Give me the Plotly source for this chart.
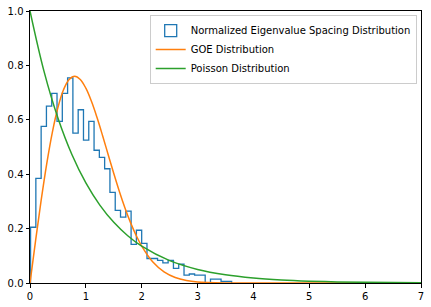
import numpy as np
import plotly.graph_objects as go

# Histogram (density) of normalized eigenvalue spacings
hist_start = 0.01
hist_end = 3.61
hist_heights = [0.205, 0.385, 0.576, 0.650, 0.697, 0.594, 0.697, 0.754, 0.551, 0.637,
                0.525, 0.594, 0.488, 0.462, 0.420, 0.333, 0.267, 0.242, 0.264, 0.142,
                0.194, 0.146, 0.090, 0.090, 0.083, 0.074, 0.083, 0.054, 0.069, 0.029,
                0.033, 0.029, 0.029, 0.0, 0.014, 0.014, 0.006, 0.006]
hist_edges = np.linspace(hist_start, hist_end, len(hist_heights) + 1)

# GOE curve values
goe_s = [0, 0.1, 0.2, 0.3, 0.4, 0.5, 0.6, 0.7, 0.8, 0.9, 1.0, 1.1, 1.2, 1.3, 1.4, 1.5,
         1.6, 1.7, 1.8, 1.9, 2.0, 2.2, 2.4, 2.6, 2.8, 3.0, 3.5, 4.0, 5.0, 6.0, 7.0]
goe_p = [0, 0.1559, 0.3044, 0.4391, 0.5541, 0.6454, 0.7104, 0.7483, 0.7602, 0.7483,
         0.7162, 0.6680, 0.6083, 0.5415, 0.4717, 0.4025, 0.3366, 0.2760, 0.2219, 0.1752,
         0.1358, 0.0772, 0.0409, 0.0202, 0.0093, 0.0040, 0.0004, 0.0, 0.0, 0.0, 0.0]

# Poisson curve values
poi_s = [0, 0.25, 0.5, 0.75, 1.0, 1.25, 1.5, 1.75, 2.0, 2.5, 3.0, 3.5, 4.0, 4.5, 5.0,
         5.5, 6.0, 6.5, 7.0]
poi_p = [1.0, 0.7788, 0.6065, 0.4724, 0.3679, 0.2865, 0.2231, 0.1738, 0.1353, 0.0821,
         0.0498, 0.0302, 0.0183, 0.0111, 0.0067, 0.0041, 0.0025, 0.0015, 0.0009]

x_ticks = [0, 1, 2, 3, 4, 5, 6, 7]
y_ticks = [0.0, 0.2, 0.4, 0.6, 0.8, 1.0]

blue, orange, green = "#1f77b4", "#ff7f0e", "#2ca02c"

step_x = [hist_edges[0]] + list(hist_edges)
step_y = [0] + list(hist_heights) + [0]

fig = go.Figure()
fig.add_trace(go.Scatter(x=step_x, y=step_y, mode="lines", line=dict(color=blue, width=1.3, shape="hv"),
                         showlegend=False, hoverinfo="skip"))
fig.add_trace(go.Bar(x=[None], y=[None], name="Normalized Eigenvalue Spacing Distribution",
                     marker=dict(color="rgba(0,0,0,0)", line=dict(color=blue, width=1.3))))
fig.add_trace(go.Scatter(x=goe_s, y=goe_p, mode="lines", name="GOE Distribution",
                         line=dict(color=orange, width=1.5, shape="spline")))
fig.add_trace(go.Scatter(x=poi_s, y=poi_p, mode="lines", name="Poisson Distribution",
                         line=dict(color=green, width=1.5, shape="spline")))

axis_common = dict(showline=True, mirror=True, linecolor="black", linewidth=1, ticks="outside",
                   ticklen=3.5, tickwidth=0.8, tickcolor="black", showgrid=False, zeroline=False,
                   automargin=False,
                   tickfont=dict(family="DejaVu Sans", size=10, color="black"))
fig.update_layout(
    width=431, height=307,
    margin=dict(l=30, r=10, t=11, b=24, autoexpand=False),
    paper_bgcolor="white", plot_bgcolor="white",
    xaxis=dict(range=[0, 7], tickvals=x_ticks, ticktext=[str(v) for v in x_ticks], **axis_common),
    yaxis=dict(range=[0, 1], tickvals=y_ticks, ticktext=[f"{v:.1f}" for v in y_ticks], **axis_common),
    legend=dict(x=0.989, y=0.985, xanchor="right", yanchor="top", bgcolor="white",
                bordercolor="#cccccc", borderwidth=1,
                font=dict(family="DejaVu Sans", size=10, color="black"),
                itemwidth=30, tracegroupgap=0),
    showlegend=True,
)
fig.write_html("out.html", config={"displayModeBar": False},
               post_script="document.body.style.margin='0';document.body.style.overflow='hidden';")
